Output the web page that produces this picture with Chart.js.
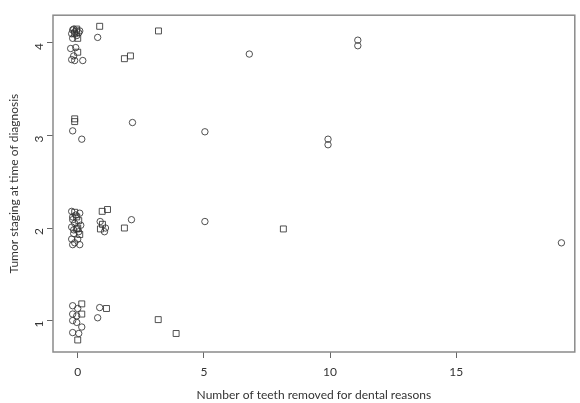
<!DOCTYPE html>
<html>
<head>
<meta charset="utf-8">
<script src="https://cdn.jsdelivr.net/npm/chart.js@4"></script>
<style>
  html, body { margin: 0; padding: 0; background: #fff; }
  #wrap { width: 580px; height: 403px; }
</style>
</head>
<body>
<div id="wrap"><canvas id="chart"></canvas></div>
<script>
// jittered points
// circles
const circleTeeth = [0.79, 6.8, 11.1, 11.1, -0.16, -0.24, 0.08, -0.2, -0.28, -0.08, -0.16, -0.24, 0.2, -0.12,
    -0.12, -0.04, 0.04, -0.2,
    -0.2, 0.16, 2.17, 5.04, 9.92, 9.92,
    5.04, 19.17, 2.13, 0.89, 1.1, 1.06, -0.24, 0.08, -0.2, -0.12, -0.24, -0.16, -0.24, 0.0, -0.12, 0.08, -0.2, 0.12,
    -0.08, -0.16, 0.04, -0.2,
    -0.2, 0.0, -0.2, -0.04, -0.2, -0.04, 0.16, -0.2, 0.04, 0.79, 0.87];
const circleStage = [4.06, 3.88, 4.03, 3.97, 4.15, 4.10, 4.13, 4.05, 3.94, 3.95, 3.86, 3.82, 3.81, 3.81,
    4.12, 4.08, 4.11, 4.14,
    3.05, 2.96, 3.14, 3.04, 2.96, 2.90,
    2.07, 1.84, 2.09, 2.07, 2.00, 1.96, 2.18, 2.16, 2.09, 2.05, 2.01, 1.94, 1.88, 1.88, 1.84, 1.82, 1.82, 2.03,
    2.14, 1.98, 1.96, 2.12,
    1.16, 1.13, 1.07, 1.05, 1.00, 0.98, 0.93, 0.87, 0.86, 1.03, 1.14];
// squares
const squareTeeth = [0.87, 3.2, 1.85, 2.09, -0.04, -0.12, 0.0, 0.0, -0.04,
    -0.12, -0.12,
    0.97, 1.18, 0.98, 0.9, 1.85, 8.15, -0.12, -0.04, 0.04, -0.04, 0.08, 0.0,
    0.16, 0.16, 0.0, 1.14, 3.19, 3.9];
const squareStage = [4.18, 4.13, 3.83, 3.86, 4.13, 4.10, 4.05, 3.90, 4.15,
    3.18, 3.15,
    2.18, 2.20, 2.04, 1.99, 2.00, 1.99, 2.17, 2.12, 2.08, 1.99, 1.93, 2.00,
    1.18, 1.07, 0.79, 1.13, 1.01, 0.86];

const xTicks = [0, 5, 10, 15];
const yTicks = [1, 2, 3, 4];

const pts = (xs, ys) => xs.map((x, i) => ({ x: x, y: ys[i] }));

// R style box round the plot region
const boxPlugin = {
    id: 'box',
    afterDraw(chart) {
        const a = chart.chartArea, ctx = chart.ctx;
        ctx.save();
        ctx.strokeStyle = '#8a8a8a';
        ctx.lineWidth = 1.5;
        ctx.strokeRect(a.left, a.top, a.right - a.left, a.bottom - a.top);
        ctx.restore();
    }
};

Chart.defaults.font.family = 'Lato, "Open Sans", sans-serif';
Chart.defaults.font.size = 12;
Chart.defaults.color = '#333';

new Chart(document.getElementById('chart'), {
    type: 'scatter',
    data: {
        datasets: [
            { label: 'circles', data: pts(circleTeeth, circleStage), pointStyle: 'circle', pointRadius: 3.2,
              borderColor: 'rgba(50,50,50,0.85)', backgroundColor: 'rgba(0,0,0,0)', borderWidth: 1 },
            { label: 'squares', data: pts(squareTeeth, squareStage), pointStyle: 'rect', pointRadius: 4.2,
              borderColor: 'rgba(50,50,50,0.85)', backgroundColor: 'rgba(0,0,0,0)', borderWidth: 1 }
        ]
    },
    options: {
        responsive: true, maintainAspectRatio: false,
        animation: false,
        layout: { padding: { top: 11, right: 1 } },
        plugins: { legend: { display: false }, tooltip: { enabled: false } },
        scales: {
            x: {
                type: 'linear', min: -0.98, max: 19.7,
                afterBuildTicks: s => { s.ticks = xTicks.map(v => ({ value: v })); },
                afterFit: s => { s.height = 51; },
                border: { display: false },
                grid: { drawOnChartArea: false, drawTicks: true, tickLength: 6, color: '#666' },
                ticks: { padding: 7, color: '#333', maxRotation: 0 },
                title: { display: true, text: 'Number of teeth removed for dental reasons', color: '#333',
                         padding: { top: 0, bottom: 1 } }
            },
            y: {
                type: 'linear', min: 0.66, max: 4.30,
                afterBuildTicks: s => { s.ticks = yTicks.map(v => ({ value: v })); },
                afterFit: s => { s.width = 53; },
                border: { display: false },
                grid: { drawOnChartArea: false, drawTicks: true, tickLength: 6, color: '#666' },
                ticks: { padding: 8, color: '#333', minRotation: 90, maxRotation: 90 },
                title: { display: true, text: 'Tumor staging at time of diagnosis', color: '#333',
                         padding: { top: 7, bottom: 0 } }
            }
        }
    },
    plugins: [boxPlugin]
});
</script>
</body>
</html>
